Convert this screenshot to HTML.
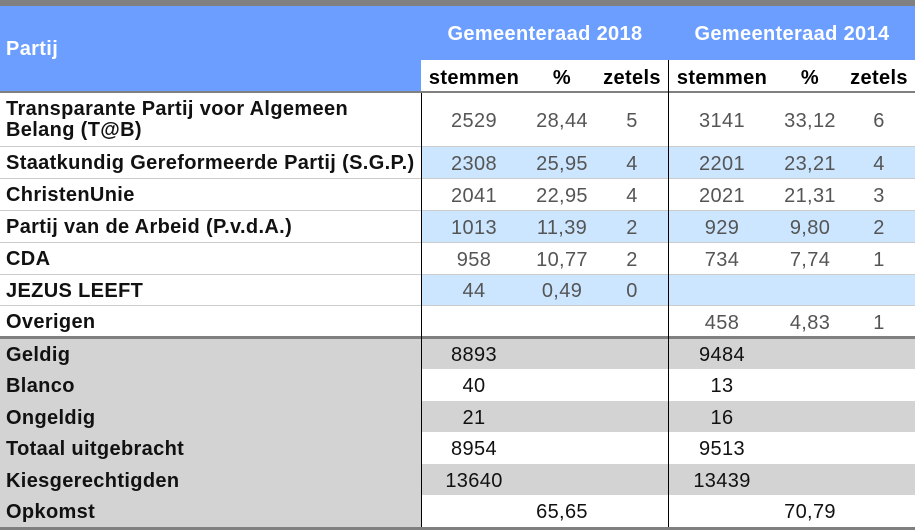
<!DOCTYPE html>
<html><head><meta charset="utf-8"><style>
body{margin:0;width:915px;height:530px;position:relative;overflow:hidden;background:#fff;font-family:"Liberation Sans",Arial,sans-serif}
.a{position:absolute}
.t,.l,.h{margin-top:1px}
.t{position:absolute;white-space:nowrap;transform:translateX(-50%);font-size:20px;letter-spacing:0.35px;color:#555;line-height:20px}
.l{position:absolute;left:6px;font-size:20px;letter-spacing:0.35px;font-weight:bold;color:#111;line-height:20px;white-space:nowrap}
.h{position:absolute;white-space:nowrap;transform:translateX(-50%);font-size:20px;letter-spacing:0.35px;font-weight:bold;line-height:20px}
.k{color:#111}
</style></head><body>
<div class="a" style="left:0;top:0;width:915px;height:6px;background:#808080"></div>
<div class="a" style="left:0;top:6px;width:915px;height:85px;background:#6b9eff"></div>
<div class="a" style="left:421px;top:60px;width:494px;height:31px;background:#fff"></div>
<div class="a" style="left:0;top:91px;width:915px;height:2px;background:#808080"></div>
<div class="l" style="top:38px;color:#fff">Partij</div>
<div class="h" style="left:545px;top:23px;color:#fff">Gemeenteraad 2018</div>
<div class="h" style="left:792px;top:23px;color:#fff">Gemeenteraad 2014</div>
<div class="h" style="left:474px;top:67px">stemmen</div>
<div class="h" style="left:562px;top:67px">%</div>
<div class="h" style="left:632px;top:67px">zetels</div>
<div class="h" style="left:722px;top:67px">stemmen</div>
<div class="h" style="left:810px;top:67px">%</div>
<div class="h" style="left:879px;top:67px">zetels</div>

<div class="a" style="left:421px;top:147px;width:494px;height:31px;background:#cce6ff"></div>
<div class="a" style="left:421px;top:211px;width:494px;height:31px;background:#cce6ff"></div>
<div class="a" style="left:421px;top:275px;width:494px;height:30px;background:#cce6ff"></div>
<div class="a" style="left:0;top:146px;width:915px;height:1px;background:#ccc"></div>
<div class="a" style="left:0;top:178px;width:915px;height:1px;background:#ccc"></div>
<div class="a" style="left:0;top:210px;width:915px;height:1px;background:#ccc"></div>
<div class="a" style="left:0;top:242px;width:915px;height:1px;background:#ccc"></div>
<div class="a" style="left:0;top:274px;width:915px;height:1px;background:#ccc"></div>
<div class="a" style="left:0;top:305px;width:915px;height:1px;background:#ccc"></div>

<div class="l" style="top:98px;line-height:21px">Transparante Partij voor Algemeen<br>Belang (T@B)</div>
<div class="l" style="top:152px">Staatkundig Gereformeerde Partij (S.G.P.)</div>
<div class="l" style="top:184px">ChristenUnie</div>
<div class="l" style="top:216px">Partij van de Arbeid (P.v.d.A.)</div>
<div class="l" style="top:248px">CDA</div>
<div class="l" style="top:280px">JEZUS LEEFT</div>
<div class="l" style="top:311px">Overigen</div>

<div class="t" style="left:474px;top:110px">2529</div><div class="t" style="left:562px;top:110px">28,44</div><div class="t" style="left:632px;top:110px">5</div>
<div class="t" style="left:722px;top:110px">3141</div><div class="t" style="left:810px;top:110px">33,12</div><div class="t" style="left:879px;top:110px">6</div>
<div class="t" style="left:474px;top:153px">2308</div><div class="t" style="left:562px;top:153px">25,95</div><div class="t" style="left:632px;top:153px">4</div>
<div class="t" style="left:722px;top:153px">2201</div><div class="t" style="left:810px;top:153px">23,21</div><div class="t" style="left:879px;top:153px">4</div>
<div class="t" style="left:474px;top:185px">2041</div><div class="t" style="left:562px;top:185px">22,95</div><div class="t" style="left:632px;top:185px">4</div>
<div class="t" style="left:722px;top:185px">2021</div><div class="t" style="left:810px;top:185px">21,31</div><div class="t" style="left:879px;top:185px">3</div>
<div class="t" style="left:474px;top:217px">1013</div><div class="t" style="left:562px;top:217px">11,39</div><div class="t" style="left:632px;top:217px">2</div>
<div class="t" style="left:722px;top:217px">929</div><div class="t" style="left:810px;top:217px">9,80</div><div class="t" style="left:879px;top:217px">2</div>
<div class="t" style="left:474px;top:249px">958</div><div class="t" style="left:562px;top:249px">10,77</div><div class="t" style="left:632px;top:249px">2</div>
<div class="t" style="left:722px;top:249px">734</div><div class="t" style="left:810px;top:249px">7,74</div><div class="t" style="left:879px;top:249px">1</div>
<div class="t" style="left:474px;top:280px">44</div><div class="t" style="left:562px;top:280px">0,49</div><div class="t" style="left:632px;top:280px">0</div>
<div class="t" style="left:722px;top:312px">458</div><div class="t" style="left:810px;top:312px">4,83</div><div class="t" style="left:879px;top:312px">1</div>

<div class="a" style="left:0;top:336px;width:915px;height:3px;background:#808080"></div>
<div class="a" style="left:0;top:339px;width:421px;height:188px;background:#d3d3d3"></div>
<div class="a" style="left:421px;top:339px;width:494px;height:30px;background:#d3d3d3"></div>
<div class="a" style="left:421px;top:401px;width:494px;height:31px;background:#d3d3d3"></div>
<div class="a" style="left:421px;top:464px;width:494px;height:31px;background:#d3d3d3"></div>
<div class="a" style="left:0;top:527px;width:915px;height:3px;background:#808080"></div>

<div class="l" style="top:344px">Geldig</div>
<div class="l" style="top:375px">Blanco</div>
<div class="l" style="top:407px">Ongeldig</div>
<div class="l" style="top:438px">Totaal uitgebracht</div>
<div class="l" style="top:470px">Kiesgerechtigden</div>
<div class="l" style="top:501px">Opkomst</div>

<div class="t k" style="left:474px;top:344px">8893</div><div class="t k" style="left:722px;top:344px">9484</div>
<div class="t k" style="left:474px;top:375px">40</div><div class="t k" style="left:722px;top:375px">13</div>
<div class="t k" style="left:474px;top:407px">21</div><div class="t k" style="left:722px;top:407px">16</div>
<div class="t k" style="left:474px;top:438px">8954</div><div class="t k" style="left:722px;top:438px">9513</div>
<div class="t k" style="left:474px;top:470px">13640</div><div class="t k" style="left:722px;top:470px">13439</div>
<div class="t k" style="left:562px;top:501px">65,65</div><div class="t k" style="left:810px;top:501px">70,79</div>

<div class="a" style="left:421px;top:93px;width:1px;height:434px;background:#000"></div>
<div class="a" style="left:668px;top:60px;width:1px;height:467px;background:#000"></div>
</body></html>
